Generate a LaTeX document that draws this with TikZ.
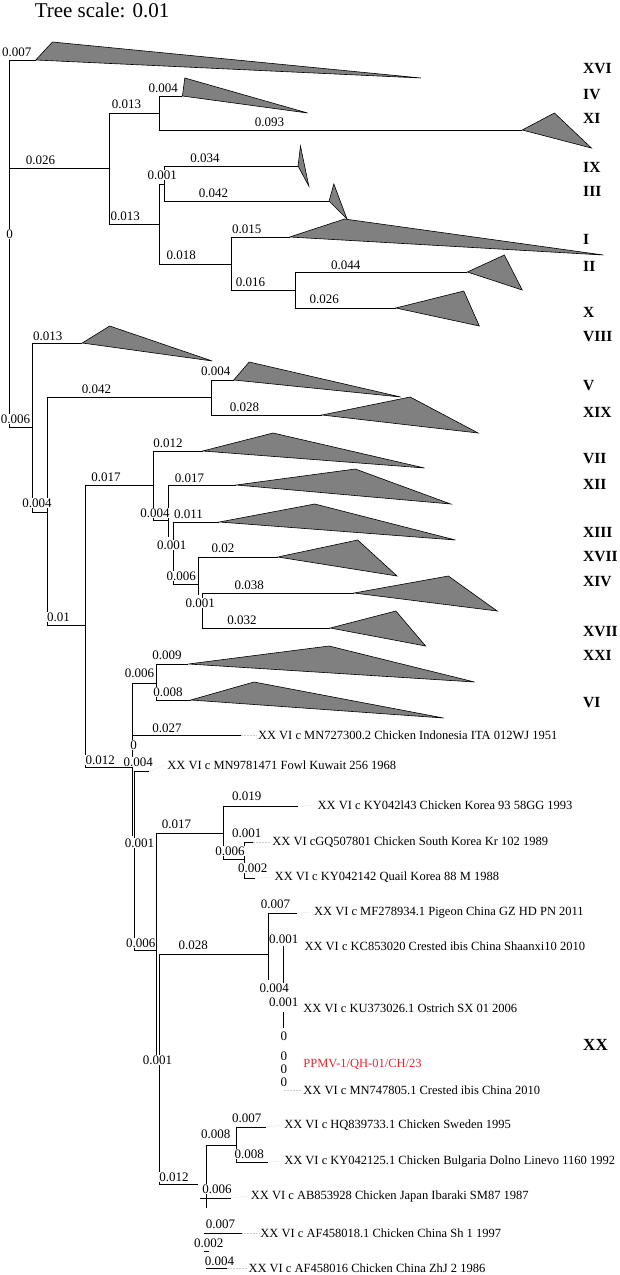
\documentclass[tikz,border=0pt]{standalone}
\usepackage{fontspec}
\setmainfont{Liberation Serif}
\definecolor{ppmvred}{RGB}{232,35,42}
\tikzset{
  branch/.style={line width=0.75pt},
  clade/.style={draw=black, line width=0.6pt, fill=black!50},
  blen/.style={font=\fontsize{13}{13}\selectfont, fill=white, inner sep=0.6pt},
  leaf/.style={font=\fontsize{12.5}{12.5}\selectfont, anchor=west, inner sep=1.5pt},
  grp/.style={font=\fontsize{15.5}{15.5}\selectfont\bfseries, anchor=west, inner sep=0pt},
  guide/.style={gray!40, densely dotted, line width=0.5pt}
}

\begin{document}
\begin{tikzpicture}[x=1.1923pt, y=-1pt]
    \useasboundingbox (0,0) rectangle (520,1275);
    \node[font=\fontsize{21}{21}\selectfont, anchor=base west, inner sep=0pt] (title) at (29,17) {Tree scale: 0.01};

    % tree, upper part
    \draw[branch] (30,60) -| (8,427) -- (27,427);
    \draw[branch] (8,168) -- (92,168);
    \draw[branch] (134,113) -| (92,224) -- (134,224);
    \draw[branch] (153,96) -| (134,130) -- (438,130);
    \draw[branch] (134,184) -- (134,264) -- (194,264);
    \draw[branch] (134,184) -- (138,184);
    \draw[branch] (250,166) -| (138,201) -- (276,201);
    \draw[branch] (243,237) -| (194,290) -- (248,290);
    \draw[branch] (392,272) -| (248,308) -- (332,308);

    % tree, middle part
    \draw[branch] (69,343) -| (27,512) -- (40,512);
    \draw[branch] (177,397) -- (40,397) -- (40,625) -- (72,625);
    \draw[branch] (196,380) -| (177,415) -- (270,415);
    \draw[branch] (129,485) -| (72,767) -- (111,767);
    \draw[branch] (170,451) -| (129,520) -- (141,520);
    \draw[branch] (198,485) -| (141,537);
    \draw[branch] (184,522) -| (145,584) -- (166,584);
    \draw[branch] (233,557) -| (166,595);
    \draw[branch] (297,593) -| (170,628) -- (277,628);
    \draw[branch] (158,664) -| (131,700) -- (160,700);
    \draw[branch] (131,683) -- (111,683) -- (111,836);
    \draw[branch] (111,735) -- (202,735);

    % tree, lower part
    \draw[branch] (125,771) -| (113,950) -- (131,950);
    \draw[branch] (187,833) -| (131,1055);
    \draw[branch] (225,954) -| (134,1184) -- (166,1184);
    \draw[branch] (250,806) -| (187,859) -- (205,859);
    \draw[branch] (212,842) -| (205,878) -- (214,878);
    \draw[branch] (249,913) -| (225,980);
    \draw[branch] (238,946) -- (238,985);
    \draw[branch] (238,1012) -- (238,1028);
    \draw[branch] (198,1145) -| (173,1208);
    \draw[branch] (168,1198) -- (194,1198);
    \draw[branch] (223,1127) -| (198,1162) -- (225,1162);
    \draw[branch] (171,1233) -- (203,1233);
    \draw[branch] (171,1251) -- (175,1251);
    \draw[branch] (173,1268) -- (190,1268);

    % collapsed clades
    \draw[clade] (30,60) -- (44,42) -- (353,78) -- cycle;
    \draw[clade] (153,96) -- (155,78) -- (258,113) -- cycle;
    \draw[clade] (438,130) -- (465,113) -- (496,148) -- cycle;
    \draw[clade] (250,166) -- (252,146) -- (259,186) -- cycle;
    \draw[clade] (276,201) -- (280,184) -- (291,219) -- cycle;
    \draw[clade] (243,237) -- (289,219) -- (506,255) -- cycle;
    \draw[clade] (392,272) -- (423,255) -- (438,290) -- cycle;
    \draw[clade] (332,308) -- (389,291) -- (402,326) -- cycle;
    \draw[clade] (69,343) -- (92,326) -- (178,361) -- cycle;
    \draw[clade] (196,380) -- (209,362) -- (336,397) -- cycle;
    \draw[clade] (270,415) -- (344,397) -- (401,433) -- cycle;
    \draw[clade] (170,451) -- (229,433) -- (356,468) -- cycle;
    \draw[clade] (198,485) -- (298,469) -- (378,504) -- cycle;
    \draw[clade] (184,522) -- (264,504) -- (382,540) -- cycle;
    \draw[clade] (233,557) -- (300,540) -- (333,576) -- cycle;
    \draw[clade] (297,593) -- (376,576) -- (417,611) -- cycle;
    \draw[clade] (277,628) -- (332,611) -- (357,646) -- cycle;
    \draw[clade] (158,664) -- (276,646) -- (398,682) -- cycle;
    \draw[clade] (160,700) -- (213,682) -- (372,718) -- cycle;

    % branch lengths
    \node[blen] (b1) at (14,52) {0.007};
    \node[blen] (b2) at (34,160) {0.026};
    \node[blen] (b3) at (106,104) {0.013};
    \node[blen] (b4) at (137,88) {0.004};
    \node[blen] (b5) at (226,122) {0.093};
    \node[blen] (b6) at (172,158) {0.034};
    \node[blen] (b7) at (136,175) {0.001};
    \node[blen] (b8) at (179,193) {0.042};
    \node[blen] (b9) at (105,216) {0.013};
    \node[blen] (b10) at (207,229) {0.015};
    \node[blen] (b11) at (152,255) {0.018};
    \node[blen] (b12) at (290,265) {0.044};
    \node[blen] (b13) at (210,282) {0.016};
    \node[blen] (b14) at (272,299) {0.026};
    \node[blen] (b15) at (8,234) {0};
    \node[blen] (b16) at (40,336) {0.013};
    \node[blen] (b17) at (181,371) {0.004};
    \node[blen] (b18) at (81,389) {0.042};
    \node[blen] (b19) at (205,407) {0.028};
    \node[blen] (b20) at (13,419) {0.006};
    \node[blen] (b21) at (141,443) {0.012};
    \node[blen] (b22) at (89,477) {0.017};
    \node[blen] (b23) at (159,478) {0.017};
    \node[blen] (b24) at (130,513) {0.004};
    \node[blen] (b25) at (158,514) {0.011};
    \node[blen] (b26) at (31,503) {0.004};
    \node[blen] (b27) at (144,545) {0.001};
    \node[blen] (b28) at (187,548) {0.02};
    \node[blen] (b29) at (152,576) {0.006};
    \node[blen] (b30) at (209,585) {0.038};
    \node[blen] (b31) at (168,603) {0.001};
    \node[blen] (b32) at (203,620) {0.032};
    \node[blen] (b33) at (49,617) {0.01};
    \node[blen] (b34) at (140,655) {0.009};
    \node[blen] (b35) at (117,673) {0.006};
    \node[blen] (b36) at (141,692) {0.008};
    \node[blen] (b37) at (140,728) {0.027};
    \node[blen] (b38) at (112,745) {0};
    \node[blen] (b39) at (84,760) {0.012};
    \node[blen] (b40) at (116,762) {0.004};
    \node[blen] (b41) at (207,796) {0.019};
    \node[blen] (b42) at (148,824) {0.017};
    \node[blen] (b43) at (117,843) {0.001};
    \node[blen] (b44) at (207,833) {0.001};
    \node[blen] (b45) at (193,851) {0.006};
    \node[blen] (b46) at (212,868) {0.002};
    \node[blen] (b47) at (231,904) {0.007};
    \node[blen] (b48) at (118,943) {0.006};
    \node[blen] (b49) at (162,945) {0.028};
    \node[blen] (b50) at (238,939) {0.001};
    \node[blen] (b51) at (230,988) {0.004};
    \node[blen] (b52) at (238,1002) {0.001};
    \node[blen] (b53) at (238,1036) {0};
    \node[blen] (b54) at (238,1056) {0};
    \node[blen] (b55) at (238,1069) {0};
    \node[blen] (b56) at (238,1082) {0};
    \node[blen] (b57) at (132,1060) {0.001};
    \node[blen] (b58) at (207,1118) {0.007};
    \node[blen] (b59) at (181,1134) {0.008};
    \node[blen] (b60) at (209,1154) {0.008};
    \node[blen] (b61) at (146,1177) {0.012};
    \node[blen] (b62) at (182,1189) {0.006};
    \node[blen] (b63) at (185,1224) {0.007};
    \node[blen] (b64) at (175,1243) {0.002};
    \node[blen] (b65) at (184,1261) {0.004};

    % leaves
    \node[leaf] (l1) at (215,735) {XX VI c MN727300.2 Chicken Indonesia ITA 012WJ 1951};
    \node[leaf] (l2) at (139,765) {XX VI c MN9781471 Fowl Kuwait 256 1968};
    \node[leaf] (l3) at (265,805) {XX VI c KY042l43 Chicken Korea 93 58GG 1993};
    \node[leaf] (l4) at (227,842) {XX VI cGQ507801 Chicken South Korea Kr 102 1989};
    \node[leaf] (l5) at (229,877) {XX VI c KY042142 Quail Korea 88 M 1988};
    \node[leaf] (l6) at (262,912) {XX VI c MF278934.1 Pigeon China GZ HD PN 2011};
    \node[leaf] (l7) at (254,946) {XX VI c KC853020 Crested ibis China Shaanxi10 2010};
    \node[leaf] (l8) at (253,1008) {XX VI c KU373026.1 Ostrich SX 01 2006};
    \node[leaf, text=ppmvred] (l9) at (253,1064) {PPMV-1/QH-01/CH/23};
    \node[leaf] (l10) at (253,1090) {XX VI c MN747805.1 Crested ibis China 2010};
    \node[leaf] (l11) at (237,1125) {XX VI c HQ839733.1 Chicken Sweden 1995};
    \node[leaf] (l12) at (237,1161) {XX VI c KY042125.1 Chicken Bulgaria Dolno Linevo 1160 1992};
    \node[leaf] (l13) at (209,1196) {XX VI c AB853928 Chicken Japan Ibaraki SM87 1987};
    \node[leaf] (l14) at (217,1233) {XX VI c AF458018.1 Chicken China Sh 1 1997};
    \node[leaf] (l15) at (207,1268) {XX VI c AF458016 Chicken China ZhJ 2 1986};

    \draw[guide] (202,735) -- (l1.west);
    \draw[guide] (125,771) -- (l2.west);
    \draw[guide] (250,806) -- (l3.west);
    \draw[guide] (212,842) -- (l4.west);
    \draw[guide] (214,878) -- (l5.west);
    \draw[guide] (249,913) -- (l6.west);
    \draw[guide] (238,1090) -- (l10.west);
    \draw[guide] (223,1127) -- (l11.west);
    \draw[guide] (225,1162) -- (l12.west);
    \draw[guide] (194,1198) -- (l13.west);
    \draw[guide] (203,1233) -- (l14.west);
    \draw[guide] (190,1268) -- (l15.west);

    % genotypes
    \node[grp] (gXVI) at (489,69) {XVI};
    \node[grp] (gIV) at (489,95) {IV};
    \node[grp] (gXI) at (489,118) {XI};
    \node[grp] (gIX) at (489,167) {IX};
    \node[grp] (gIII) at (489,191) {III};
    \node[grp] (gI) at (489,239) {I};
    \node[grp] (gII) at (489,266) {II};
    \node[grp] (gX) at (489,312) {X};
    \node[grp] (gVIII) at (489,337) {VIII};
    \node[grp] (gV) at (489,386) {V};
    \node[grp] (gXIX) at (489,412) {XIX};
    \node[grp] (gVII) at (489,459) {VII};
    \node[grp] (gXII) at (489,484) {XII};
    \node[grp] (gXIII) at (489,532) {XIII};
    \node[grp] (gXVIIa) at (489,557) {XVII};
    \node[grp] (gXIV) at (489,582) {XIV};
    \node[grp] (gXVIIb) at (489,632) {XVII};
    \node[grp] (gXXI) at (489,655) {XXI};
    \node[grp] (gVI) at (489,703) {VI};
    \node[grp, font=\fontsize{17}{17}\selectfont\bfseries] (gXX) at (489,1045) {XX};
\end{tikzpicture}
\end{document}
